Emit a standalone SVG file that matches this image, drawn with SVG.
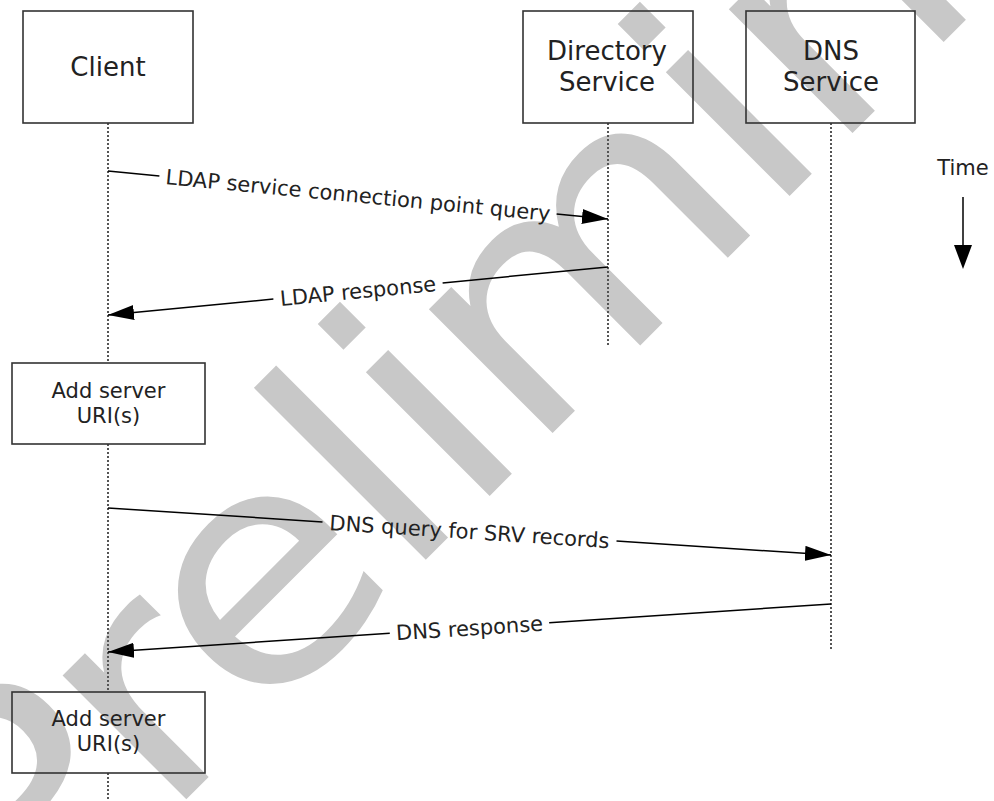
<svg xmlns="http://www.w3.org/2000/svg" width="994" height="801" viewBox="0 0 994 801">
  <defs>
    <style>
      .box { fill: none; stroke: #333; stroke-width: 1.6; }
      .life { stroke: #555; stroke-width: 2; stroke-dasharray: 2 2; fill: none; }
      .msg { stroke: #000; stroke-width: 1.5; fill: none; }
      .hdr { font-family: "DejaVu Sans", Verdana, sans-serif; font-size: 26px; fill: #222; text-anchor: middle; }
      .lbl { font-family: "DejaVu Sans", Verdana, sans-serif; font-size: 21px; fill: #222; text-anchor: middle; }
      .wm { font-family: "DejaVu Sans", Verdana, sans-serif; font-size: 320px; letter-spacing: -6.4px; fill: #c8c8c8; }
    </style>
    <marker id="arr" markerUnits="userSpaceOnUse" markerWidth="27" markerHeight="16" refX="26" refY="7.5" orient="auto">
      <path d="M0,0 L26,7.5 L0,15 Z" fill="#000"/>
    </marker>
  </defs>
  <rect x="0" y="0" width="994" height="801" fill="#fff"/>

  <g id="watermark">
    <text class="wm" transform="translate(23.9,961.7) rotate(-45) scale(1.09375,1)">Preliminary</text>
  </g>

  <g id="lifelines">
    <line class="life" x1="108" y1="123" x2="108" y2="363"/>
    <line class="life" x1="108" y1="444" x2="108" y2="692"/>
    <line class="life" x1="108" y1="773" x2="108" y2="801"/>
    <line class="life" x1="608" y1="123" x2="608" y2="345"/>
    <line class="life" x1="831" y1="123" x2="831" y2="651"/>
  </g>

  <g id="client">
    <rect class="box" x="23" y="11" width="170" height="112"/>
    <text class="hdr" x="108" y="76">Client</text>
  </g>
  <g id="directory">
    <rect class="box" x="523" y="11" width="170" height="112"/>
    <text class="hdr" x="607" y="60">Directory</text>
    <text class="hdr" x="607" y="91">Service</text>
  </g>
  <g id="dns">
    <rect class="box" x="746" y="11" width="169" height="112"/>
    <text class="hdr" x="831" y="60">DNS</text>
    <text class="hdr" x="831" y="91">Service</text>
  </g>
  <g id="add1">
    <rect class="box" x="12" y="363" width="193" height="81"/>
    <text class="lbl" x="108.5" y="398">Add server</text>
    <text class="lbl" x="108.5" y="423">URI(s)</text>
  </g>
  <g id="add2">
    <rect class="box" x="12" y="692" width="193" height="81"/>
    <text class="lbl" x="108.5" y="726">Add server</text>
    <text class="lbl" x="108.5" y="751">URI(s)</text>
  </g>

  <g id="connectors">
    <line class="msg" x1="108" y1="171" x2="159.4" y2="175.9"/>
    <line class="msg" x1="556.6" y1="214.1" x2="608" y2="219" marker-end="url(#arr)"/>
    <text class="lbl" transform="translate(358,195) rotate(5.48)" x="0" y="7.5">LDAP service connection point query</text>

    <line class="msg" x1="608" y1="267" x2="442.6" y2="282.9"/>
    <line class="msg" x1="273.4" y1="299.1" x2="108" y2="315" marker-end="url(#arr)"/>
    <text class="lbl" transform="translate(358,291) rotate(-5.48)" x="0" y="7.5">LDAP response</text>

    <line class="msg" x1="108" y1="508" x2="322.5" y2="521.9"/>
    <line class="msg" x1="616.5" y1="541.1" x2="831" y2="555" marker-end="url(#arr)"/>
    <text class="lbl" transform="translate(469.5,531.5) rotate(3.72)" x="0" y="7.5">DNS query for SRV records</text>

    <line class="msg" x1="831" y1="604" x2="549.2" y2="622.7"/>
    <line class="msg" x1="389.8" y1="633.3" x2="108" y2="652" marker-end="url(#arr)"/>
    <text class="lbl" transform="translate(469.5,628) rotate(-3.8)" x="0" y="7.5">DNS response</text>
  </g>

  <g id="time">
    <text class="lbl" x="963" y="175">Time</text>
    <line x1="963" y1="197" x2="963" y2="248" stroke="#000" stroke-width="1.5"/>
    <path d="M954,245 L972,245 L963,269 Z" fill="#000"/>
  </g>
</svg>
